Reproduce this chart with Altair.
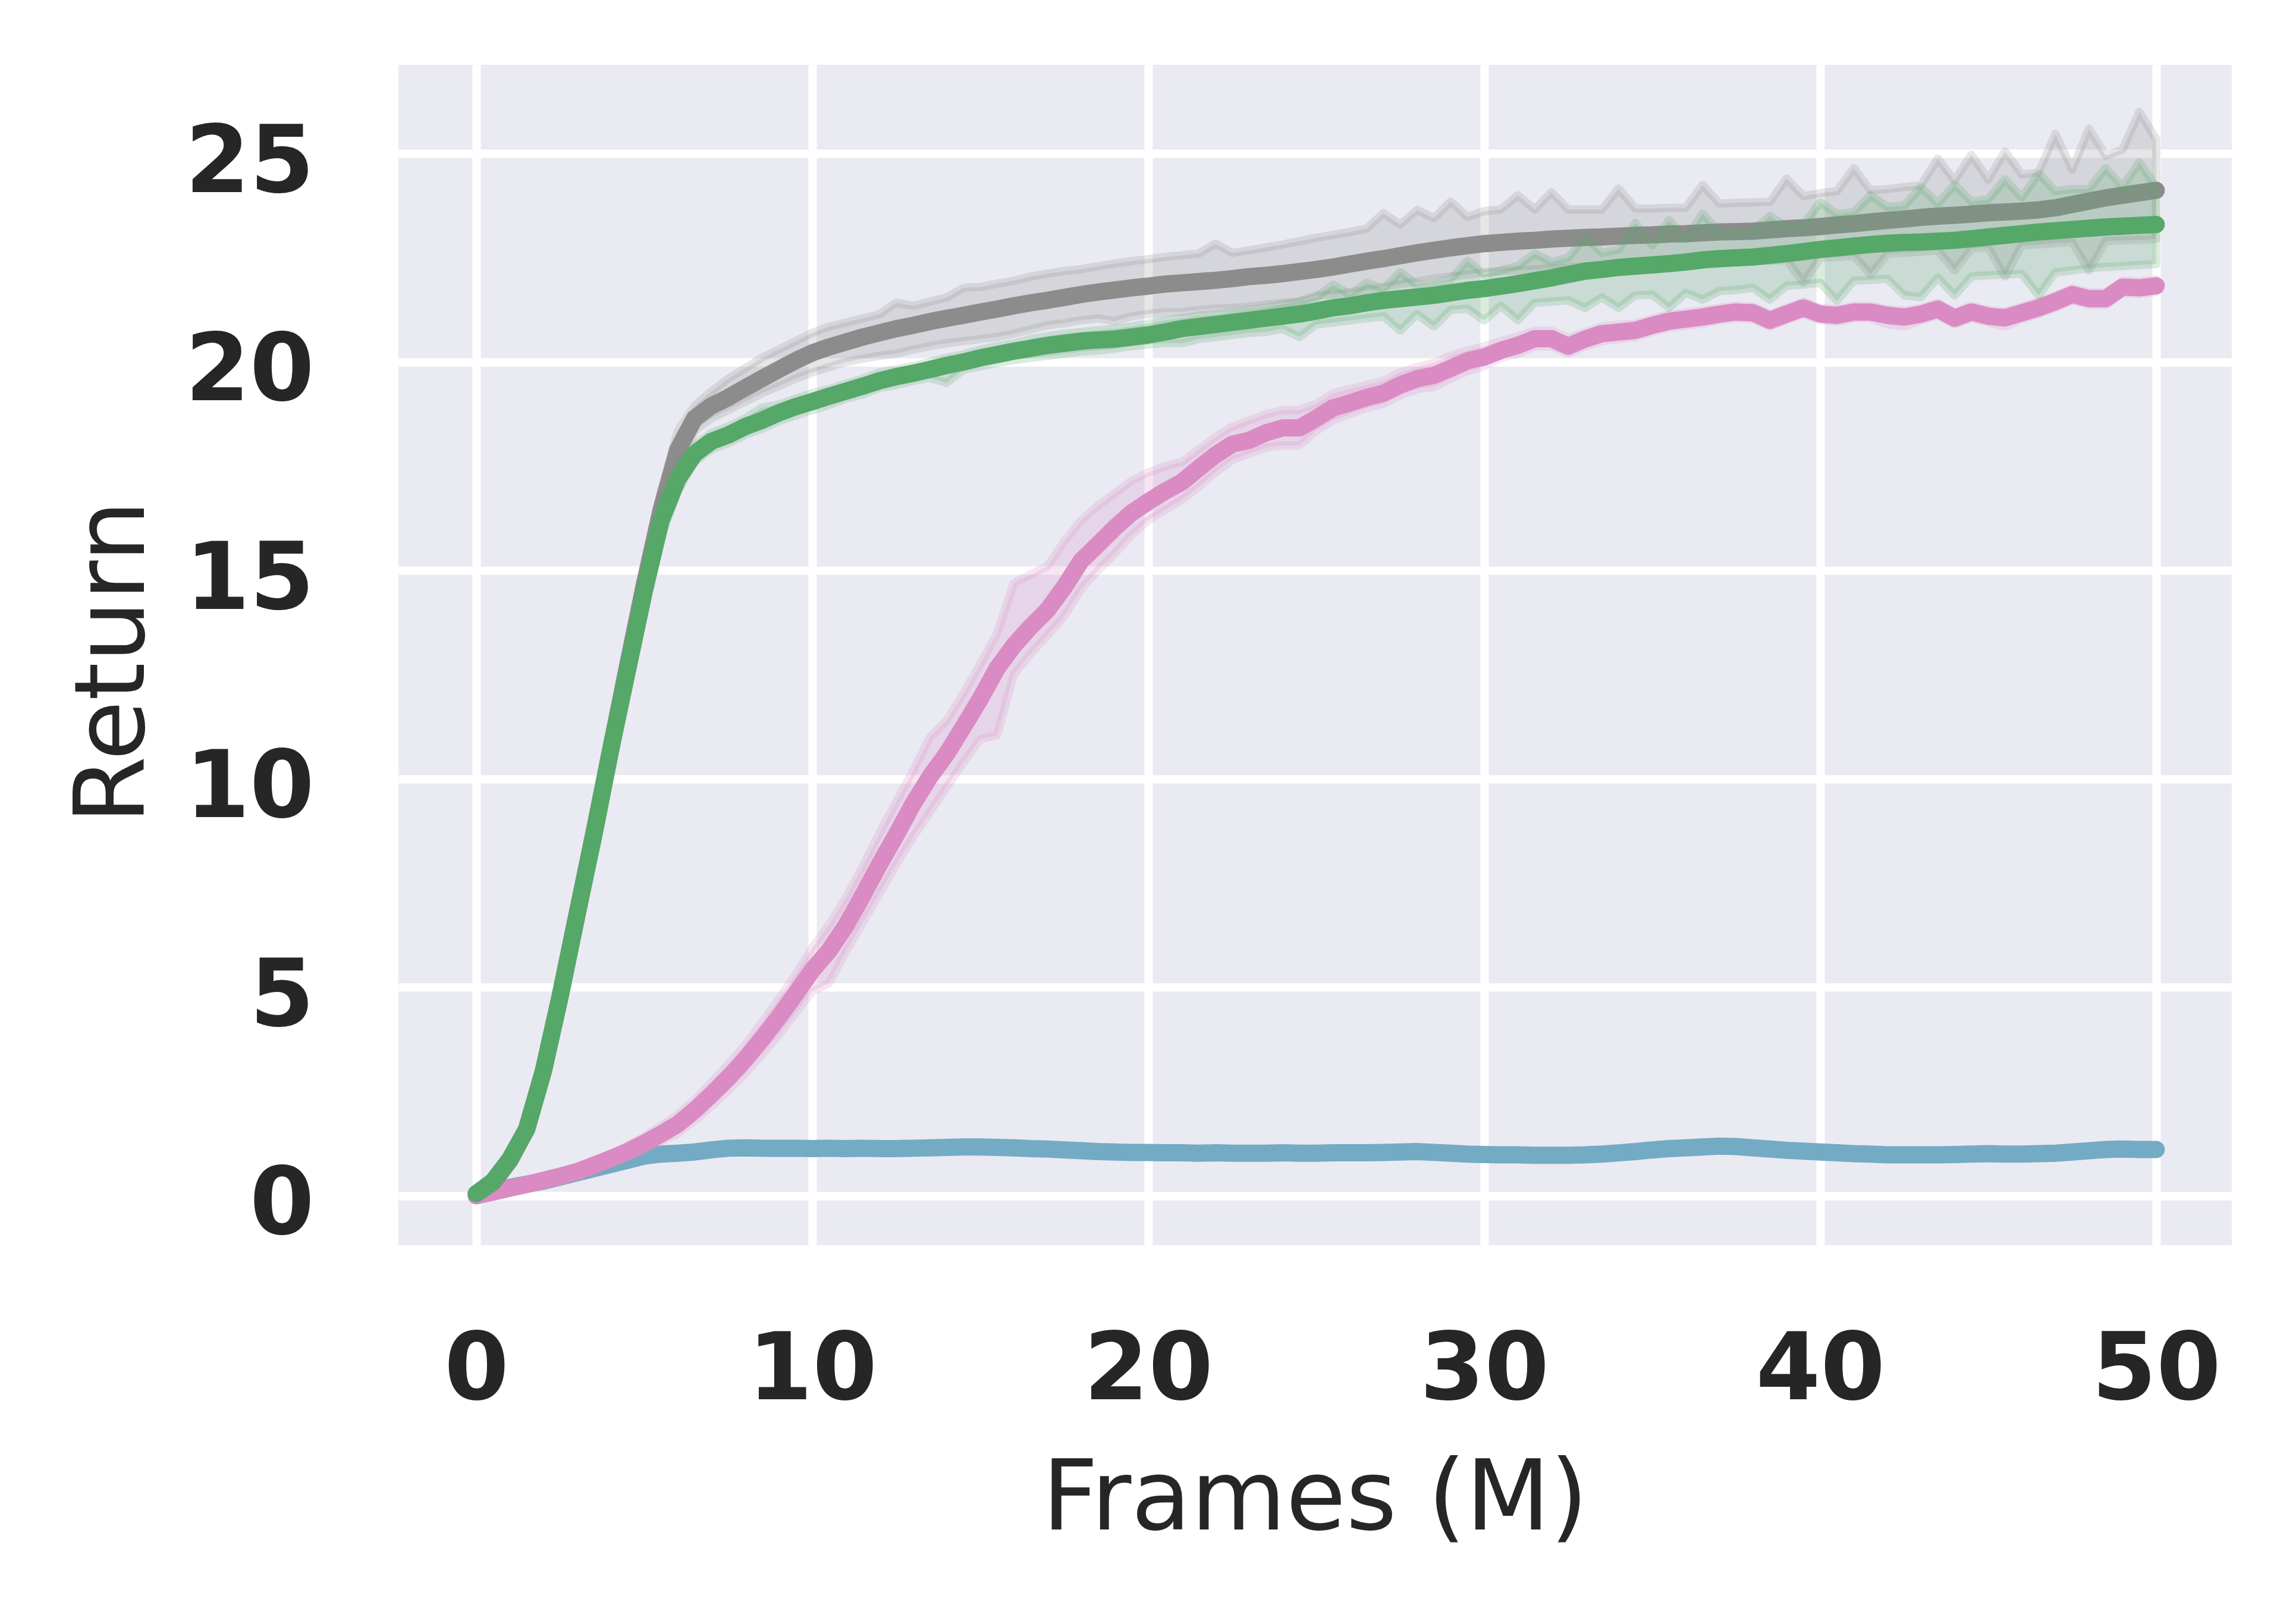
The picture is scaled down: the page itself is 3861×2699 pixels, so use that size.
import altair as alt
import pandas as pd

# ---------------- data ----------------
frames = [i * 0.5 for i in range(101)]  # 0 .. 50 M frames, sampling grid

gray_mean = [0.05, 0.32, 0.85, 1.6, 3.0, 4.8, 6.75, 8.7, 10.7, 12.7, 14.65, 16.45, 17.9, 18.65, 18.95, 19.15, 19.38, 19.6, 19.82, 20.03,
             20.22, 20.36, 20.48, 20.6, 20.7, 20.8, 20.88, 20.97, 21.05, 21.12, 21.2, 21.27, 21.35, 21.42, 21.48, 21.55, 21.62, 21.68, 21.73, 21.78,
             21.82, 21.87, 21.9, 21.93, 21.96, 22.0, 22.05, 22.08, 22.12, 22.17, 22.22, 22.28, 22.35, 22.42, 22.48, 22.55, 22.62, 22.68, 22.74, 22.79,
             22.84, 22.87, 22.9, 22.92, 22.95, 22.97, 22.99, 23.0, 23.02, 23.04, 23.05, 23.07, 23.08, 23.1, 23.12, 23.13, 23.14, 23.17, 23.2, 23.22,
             23.25, 23.29, 23.32, 23.36, 23.4, 23.43, 23.47, 23.5, 23.52, 23.55, 23.58, 23.6, 23.62, 23.65, 23.7, 23.78, 23.86, 23.94, 24.0, 24.06, 24.12]
gray_hi = [0.1, 0.42, 0.98, 1.8, 3.3, 5.15, 7.15, 9.1, 11.1, 13.1, 15.1, 16.9, 18.35, 18.95, 19.3, 19.6, 19.85, 20.1, 20.3, 20.5,
           20.7, 20.85, 20.95, 21.05, 21.15, 21.42, 21.35, 21.45, 21.55, 21.78, 21.8, 21.88, 21.95, 22.05, 22.12, 22.18, 22.23, 22.3, 22.36, 22.42,
           22.47, 22.52, 22.56, 22.6, 22.84, 22.62, 22.68, 22.75, 22.82, 22.9, 22.98, 23.05, 23.12, 23.2, 23.57, 23.3, 23.65, 23.45, 23.85, 23.48,
           23.62, 23.66, 24.0, 23.66, 24.07, 23.66, 23.66, 23.66, 24.16, 23.68, 23.68, 23.7, 23.7, 24.25, 23.8, 23.82, 23.83, 23.84, 24.4, 23.98,
           24.05, 24.1, 24.65, 24.12, 24.15, 24.2, 24.24, 24.88, 24.35, 24.97, 24.38, 25.05, 24.5, 24.55, 25.47, 24.62, 25.6, 24.95, 25.1, 26.0, 25.34]
gray_lo = [0.0, 0.24, 0.72, 1.4, 2.7, 4.45, 6.35, 8.3, 10.3, 12.3, 14.2, 15.95, 17.4, 18.35, 18.65, 18.85, 19.05, 19.25, 19.42, 19.6,
           19.75, 19.88, 20.0, 20.08, 20.15, 20.2, 20.3, 20.38, 20.45, 20.5, 20.55, 20.6, 20.68, 20.78, 20.88, 20.93, 21.0, 21.05, 20.98, 21.1,
           21.15, 21.2, 21.2, 21.25, 21.28, 21.3, 21.33, 21.38, 21.42, 21.45, 21.6, 21.62, 21.67, 21.72, 21.8, 21.87, 21.93, 22.0, 22.05, 22.1,
           22.15, 22.18, 22.2, 22.22, 22.25, 22.27, 22.28, 22.3, 22.3, 22.32, 22.33, 22.35, 22.35, 22.37, 22.38, 22.4, 22.42, 22.43, 22.45, 21.9,
           22.5, 22.52, 22.55, 22.1, 22.6, 22.62, 22.65, 22.68, 22.2, 22.72, 22.75, 22.05, 22.8, 22.82, 22.85, 22.87, 22.2, 22.9, 22.92, 22.93, 22.95]

green_mean = [0.05, 0.35, 0.88, 1.6, 3.0, 4.8, 6.75, 8.65, 10.7, 12.6, 14.5, 16.2, 17.2, 17.8, 18.1, 18.25, 18.45, 18.6, 18.78, 18.93,
              19.05, 19.18, 19.3, 19.42, 19.55, 19.65, 19.73, 19.82, 19.92, 20.0, 20.1, 20.18, 20.26, 20.33, 20.4, 20.45, 20.5, 20.53, 20.55, 20.6,
              20.65, 20.72, 20.8, 20.85, 20.9, 20.95, 21.0, 21.05, 21.1, 21.15, 21.22, 21.3, 21.35, 21.42, 21.48, 21.52, 21.56, 21.6, 21.66, 21.72,
              21.76, 21.82, 21.88, 21.95, 22.02, 22.1, 22.18, 22.22, 22.27, 22.3, 22.33, 22.36, 22.4, 22.45, 22.48, 22.5, 22.52, 22.56, 22.6, 22.65,
              22.7, 22.74, 22.78, 22.82, 22.85, 22.87, 22.88, 22.9, 22.92, 22.96, 23.0, 23.04, 23.08, 23.12, 23.15, 23.18, 23.21, 23.24, 23.26, 23.28, 23.3]
green_hi = [0.1, 0.45, 1.0, 1.8, 3.3, 5.15, 7.15, 9.05, 11.1, 13.0, 14.9, 16.6, 17.5, 18.0, 18.3, 18.45, 18.65, 18.9, 18.98, 19.12,
            19.25, 19.35, 19.48, 19.6, 19.75, 19.82, 19.9, 20.0, 20.1, 20.18, 20.3, 20.38, 20.45, 20.55, 20.62, 20.68, 20.72, 20.76, 20.8, 20.85,
            20.92, 21.0, 21.05, 21.12, 21.15, 21.2, 21.25, 21.3, 21.38, 21.45, 21.55, 21.85, 21.62, 21.9, 21.75, 22.16, 21.85, 21.9, 21.98, 22.43,
            22.1, 22.2, 22.3, 22.6, 22.4, 22.5, 23.0, 22.62, 22.7, 23.34, 22.8, 23.4, 22.95, 23.56, 23.1, 23.12, 23.15, 23.5, 23.25, 23.3,
            23.83, 23.55, 23.6, 24.0, 23.72, 23.75, 24.2, 23.8, 24.25, 23.85, 23.9, 24.38, 23.95, 24.52, 24.1, 24.15, 24.15, 24.65, 24.2, 24.79, 24.2]
green_lo = [0.0, 0.26, 0.76, 1.4, 2.7, 4.45, 6.35, 8.25, 10.3, 12.2, 14.1, 15.8, 16.9, 17.6, 17.9, 18.05, 18.25, 18.4, 18.58, 18.72,
            18.85, 18.97, 19.12, 19.22, 19.38, 19.45, 19.55, 19.62, 19.5, 19.82, 19.9, 19.98, 20.05, 20.1, 20.15, 20.2, 20.25, 20.28, 20.32, 20.38,
            20.42, 20.46, 20.45, 20.55, 20.6, 20.65, 20.7, 20.72, 20.8, 20.6, 20.9, 20.95, 21.0, 21.05, 21.1, 20.75, 21.15, 20.85, 21.25, 21.28,
            21.0, 21.35, 21.0, 21.42, 21.45, 21.48, 21.3, 21.55, 21.3, 21.6, 21.62, 21.3, 21.66, 21.5, 21.7, 21.73, 21.78, 21.5, 21.83, 21.86,
            21.9, 21.47, 21.95, 21.97, 22.0, 21.6, 21.56, 22.02, 21.6, 22.05, 22.08, 22.1, 22.12, 21.6, 22.15, 22.2, 22.25, 22.28, 22.3, 22.33, 22.35]

pink_mean = [0.0, 0.09, 0.18, 0.27, 0.37, 0.47, 0.58, 0.73, 0.89, 1.06, 1.26, 1.48, 1.72, 2.05, 2.43, 2.83, 3.27, 3.76, 4.28, 4.84,
             5.41, 5.88, 6.48, 7.2, 7.95, 8.66, 9.4, 10.05, 10.6, 11.25, 11.92, 12.65, 13.2, 13.65, 14.05, 14.6, 15.23, 15.62, 16.02, 16.38,
             16.65, 16.9, 17.12, 17.45, 17.77, 18.03, 18.12, 18.3, 18.42, 18.42, 18.65, 18.9, 19.02, 19.15, 19.25, 19.45, 19.6, 19.68, 19.85, 20.03,
             20.12, 20.28, 20.4, 20.56, 20.56, 20.38, 20.55, 20.68, 20.72, 20.76, 20.88, 20.98, 21.03, 21.08, 21.15, 21.2, 21.18, 21.0, 21.15, 21.3,
             21.15, 21.12, 21.2, 21.2, 21.12, 21.08, 21.15, 21.27, 21.05, 21.2, 21.1, 21.06, 21.18, 21.3, 21.45, 21.62, 21.52, 21.52, 21.8, 21.78, 21.83]
pink_hi = [0.02, 0.12, 0.22, 0.32, 0.43, 0.54, 0.67, 0.83, 1.0, 1.2, 1.42, 1.68, 1.95, 2.3, 2.72, 3.15, 3.62, 4.15, 4.72, 5.3,
           5.95, 6.5, 7.15, 7.9, 8.7, 9.45, 10.2, 11.0, 11.4, 12.05, 12.75, 13.5, 14.7, 14.9, 15.1, 15.7, 16.2, 16.55, 16.85, 17.15,
           17.35, 17.5, 17.6, 17.9, 18.2, 18.45, 18.6, 18.75, 18.85, 18.85, 19.0, 19.25, 19.35, 19.45, 19.55, 19.75, 19.88, 19.98, 20.15, 20.28,
           20.38, 20.5, 20.62, 20.75, 20.75, 20.58, 20.72, 20.85, 20.9, 20.92, 21.04, 21.14, 21.19, 21.24, 21.3, 21.35, 21.33, 21.15, 21.3, 21.45,
           21.3, 21.27, 21.35, 21.35, 21.27, 21.23, 21.3, 21.42, 21.2, 21.35, 21.25, 21.21, 21.33, 21.45, 21.6, 21.77, 21.67, 21.67, 21.95, 21.93, 21.98]
pink_lo = [0.0, 0.06, 0.14, 0.22, 0.31, 0.4, 0.5, 0.63, 0.78, 0.93, 1.1, 1.3, 1.5, 1.8, 2.15, 2.52, 2.92, 3.38, 3.85, 4.38,
           4.9, 5.1, 5.85, 6.55, 7.25, 7.95, 8.6, 9.2, 9.8, 10.4, 10.95, 11.05, 12.5, 13.0, 13.45, 13.9, 14.55, 15.0, 15.4, 15.85,
           16.2, 16.45, 16.7, 17.0, 17.35, 17.65, 17.8, 17.95, 18.0, 18.0, 18.35, 18.6, 18.75, 18.9, 19.0, 19.2, 19.35, 19.4, 19.6, 19.78,
           19.9, 20.1, 20.2, 20.38, 20.38, 20.2, 20.38, 20.5, 20.55, 20.6, 20.72, 20.82, 20.87, 20.92, 21.0, 21.05, 21.03, 20.85, 21.0, 21.15,
           21.0, 20.97, 21.05, 21.05, 20.9, 20.85, 21.0, 21.12, 20.9, 21.05, 20.95, 20.85, 21.03, 21.15, 21.3, 21.47, 21.37, 21.37, 21.65, 21.63, 21.68]

blue_mean = [0.0, 0.12, 0.2, 0.28, 0.35, 0.45, 0.55, 0.65, 0.75, 0.85, 0.95, 1.0, 1.02, 1.05, 1.1, 1.14, 1.15, 1.14, 1.14, 1.14,
             1.13, 1.14, 1.13, 1.14, 1.13, 1.13, 1.14, 1.15, 1.16, 1.17, 1.17, 1.16, 1.15, 1.13, 1.12, 1.1, 1.08, 1.06, 1.05, 1.04,
             1.04, 1.03, 1.03, 1.02, 1.03, 1.02, 1.02, 1.02, 1.03, 1.02, 1.02, 1.03, 1.03, 1.03, 1.04, 1.05, 1.06, 1.04, 1.02, 1.0,
             0.99, 0.98, 0.98, 0.97, 0.97, 0.97, 0.98, 1.0, 1.03, 1.06, 1.1, 1.13, 1.15, 1.17, 1.19, 1.18, 1.15, 1.12, 1.09, 1.07,
             1.05, 1.03, 1.01, 1.0, 0.98, 0.98, 0.98, 0.98, 0.99, 1.0, 1.01, 1.0, 1.0, 1.01, 1.02, 1.05, 1.08, 1.11, 1.12, 1.11, 1.11]

x_ticks = [0, 10, 20, 30, 40, 50]
y_ticks = [0, 5, 10, 15, 20, 25]

# name, mean, lo, hi, colour  (drawing order)
series = [
    ("blue", blue_mean, None, None, "#73abc4"),
    ("pink", pink_mean, pink_lo, pink_hi, "#da8bc3"),
    ("gray", gray_mean, gray_lo, gray_hi, "#8c8c8c"),
    ("green", green_mean, green_lo, green_hi, "#55a868"),
]

rows = []
for name, m, lo, hi, col in series:
    for i, x in enumerate(frames):
        rows.append({
            "series": name,
            "frames": x,
            "mean": m[i],
            "lo": lo[i] if lo is not None else m[i],
            "hi": hi[i] if hi is not None else m[i],
        })
df = pd.DataFrame(rows)

FONT = "DejaVu Sans"
TXT = "#262626"

xscale = alt.Scale(domain=[-2.317, 52.25], nice=False, zero=False)
yscale = alt.Scale(domain=[-1.187, 27.13], nice=False, zero=False)

xaxis = alt.Axis(
    values=x_ticks, title="Frames (M)", format="d",
    labelFont=FONT, labelFontSize=156, labelFontWeight="bold", labelColor=TXT,
    labelBaseline="alphabetic", labelPadding=258, labelFlush=False, labelOverlap=False,
    labelLimit=2000,
    ticks=False, tickSize=0, domain=False,
    grid=True, gridColor="white", gridWidth=14,
    titleFont=FONT, titleFontSize=164, titleFontWeight="normal", titleColor=TXT,
    titleBaseline="alphabetic", titleY=477, titleX=1541, titleAlign="center",
    titleLimit=4000,
)
yaxis = alt.Axis(
    values=y_ticks, title="Return", format="d",
    labelFont=FONT, labelFontSize=156, labelFontWeight="bold", labelColor=TXT,
    labelBaseline="alphabetic", labelOffset=64, labelAlign="right", labelPadding=142,
    labelFlush=False, labelOverlap=False, labelLimit=2000,
    ticks=False, tickSize=0, domain=False,
    grid=True, gridColor="white", gridWidth=14,
    titleFont=FONT, titleFontSize=164, titleFontWeight="normal", titleColor=TXT,
    titleAngle=270, titleBaseline="alphabetic", titleX=-429, titleY=1004, titleAlign="center",
    titleLimit=4000,
)

LINE_W = 29
BAND_W = 14

layers = []
for name, m, lo, hi, col in series:
    base = alt.Chart(df).transform_filter(alt.datum.series == name)
    line = base.mark_line(
        color=col, strokeCap="round", strokeJoin="round", strokeWidth=LINE_W,
    ).encode(
        x=alt.X("frames:Q", scale=xscale, axis=xaxis),
        y=alt.Y("mean:Q", scale=yscale, axis=yaxis),
    )
    layers.append(line)
    if lo is not None:
        band = base.mark_area(
            color=col, fillOpacity=0.22, stroke=col, strokeOpacity=0.22,
            strokeJoin="round", strokeWidth=BAND_W,
        ).encode(
            x=alt.X("frames:Q", scale=xscale, axis=xaxis),
            y=alt.Y("lo:Q", scale=yscale, axis=yaxis),
            y2="hi:Q",
        )
        layers.append(band)

chart = alt.layer(*layers).properties(
    width=3083,
    height=1985,
    autosize=alt.AutoSizeParams(type="none"),
    padding={"left": 662, "top": 101, "right": 90, "bottom": 580},
    background="white",
).configure_view(
    fill="#eaeaf2", stroke=None, strokeWidth=0
)

chart.save("out.html", embed_options={"renderer": "svg", "actions": False})
